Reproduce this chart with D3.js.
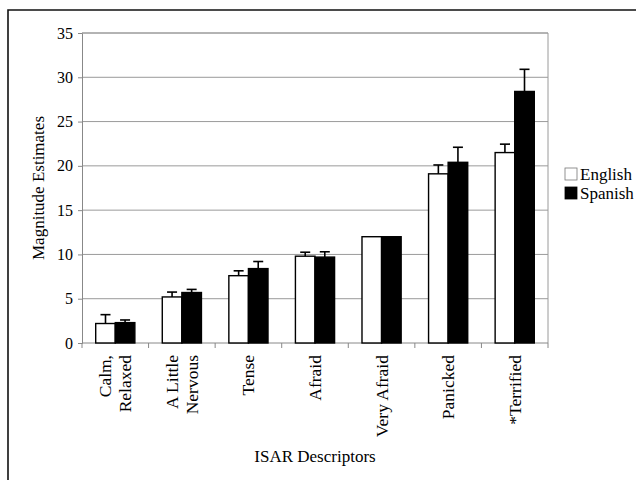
<!DOCTYPE html>
<html lang="en">
<head>
  <meta charset="UTF-8">
  <title>ISAR Descriptors - Magnitude Estimates</title>
  <style>
    body { margin: 0; background: #fff; }
    svg { display: block; font-family: "Liberation Serif", "Times New Roman", serif; }
    .grid line { stroke: #9a9a9a; }
  </style>
  <script src="https://d3js.org/d3.v7.min.js"></script>
</head>
<body>
<svg id="chart"></svg>
<script>
  // Data
  const categories = [["Calm,", "Relaxed"], ["A Little", "Nervous"], ["Tense"], ["Afraid"],
                      ["Very Afraid"], ["Panicked"], ["*Terrified"]];
  const series = ["English", "Spanish"];
  const englishMeans = [2.2, 5.2, 7.6, 9.8, 12.0, 19.1, 21.5];
  const spanishMeans = [2.3, 5.7, 8.4, 9.7, 12.0, 20.4, 28.4];
  const englishErr = [1.0, 0.55, 0.55, 0.45, 0, 1.0, 0.95];
  const spanishErr = [0.3, 0.35, 0.8, 0.6, 0, 1.7, 2.5];
  const yTicks = [0, 5, 10, 15, 20, 25, 30, 35];

  const FONT = "'Liberation Serif', 'Times New Roman', serif";
  const W = 636, H = 480;
  const margin = {top: 33, right: 88, bottom: 137, left: 82};
  const width = W - margin.left - margin.right;
  const height = H - margin.top - margin.bottom;

  const root = d3.select("#chart").attr("width", W).attr("height", H);

  // outer frame (runs off the right and bottom edge)
  root.append("path")
    .attr("d", `M8,${H + 5}V10H${W + 5}`)
    .attr("fill", "none")
    .attr("stroke", "#111")
    .attr("stroke-width", 1.6);

  const svg = root.append("g").attr("transform", `translate(${margin.left},${margin.top})`);

  const keys = categories.map(c => c.join(" "));
  const rows = keys.map((k, i) => ({
    key: k,
    values: [
      {s: "English", v: englishMeans[i], e: englishErr[i]},
      {s: "Spanish", v: spanishMeans[i], e: spanishErr[i]}
    ]
  }));

  const x0 = d3.scaleBand().domain(keys).range([0, width]).padding(0);
  const x1 = d3.scaleBand().domain(series).range([0, x0.bandwidth()]).paddingInner(0).paddingOuter(0.7);
  const y = d3.scaleLinear().domain([0, 35]).range([height, 0]);
  const fill = d3.scaleOrdinal().domain(series).range(["#fff", "#000"]);

  // gridlines
  svg.append("g")
    .attr("class", "grid")
    .selectAll("line")
    .data(yTicks.slice(1))
    .join("line")
    .attr("x1", 0).attr("x2", width)
    .attr("y1", d => y(d)).attr("y2", d => y(d));

  // right border
  svg.append("line")
    .attr("x1", width).attr("x2", width)
    .attr("y1", 0).attr("y2", height)
    .attr("stroke", "#9a9a9a");

  // y axis
  const yAxis = svg.append("g")
    .call(d3.axisLeft(y).tickValues(yTicks).tickSize(4).tickPadding(5))
    .attr("font-family", FONT)
    .attr("font-size", 16);
  yAxis.selectAll("path, line").attr("stroke", "#888");
  yAxis.selectAll("text").attr("fill", "#000").style("font-family", FONT);

  // x axis with ticks at group boundaries
  const xAxis = svg.append("g")
    .attr("transform", `translate(0,${height})`);
  xAxis.append("line")
    .attr("x1", 0).attr("x2", width)
    .attr("stroke", "#888");
  xAxis.selectAll(".bound")
    .data(keys.concat(["end"]))
    .join("line")
    .attr("class", "bound")
    .attr("x1", (d, i) => i < keys.length ? x0(d) : width)
    .attr("x2", (d, i) => i < keys.length ? x0(d) : width)
    .attr("y1", 0).attr("y2", 5)
    .attr("stroke", "#888");

  // category labels, rotated
  const lineH = 20;
  const lab = xAxis.selectAll(".cat")
    .data(categories)
    .join("text")
    .attr("class", "cat")
    .attr("transform", (c, i) => `translate(${x0(keys[i]) + x0.bandwidth() / 2},12) rotate(-90)`)
    .attr("text-anchor", "end")
    .attr("fill", "#000")
    .style("font-size", "17.5px");
  lab.selectAll("tspan")
    .data(c => c.map((t, j) => ({t, j, n: c.length})))
    .join("tspan")
    .attr("x", 0)
    .attr("y", d => (d.j - (d.n - 1) / 2) * lineH + 6)
    .text(d => d.t);

  // bars
  const grp = svg.selectAll(".grp")
    .data(rows)
    .join("g")
    .attr("class", "grp")
    .attr("transform", d => `translate(${x0(d.key)},0)`);

  grp.selectAll("rect")
    .data(d => d.values)
    .join("rect")
    .attr("x", d => x1(d.s))
    .attr("y", d => y(d.v))
    .attr("width", x1.bandwidth())
    .attr("height", d => height - y(d.v))
    .attr("fill", d => fill(d.s))
    .attr("stroke", "#000")
    .attr("stroke-width", 1.4);

  // error bars (upper only)
  const eb = grp.selectAll(".err")
    .data(d => d.values.filter(v => v.e > 0))
    .join("g")
    .attr("class", "err")
    .attr("stroke", "#000")
    .attr("stroke-width", 1.6);
  eb.append("line")
    .attr("x1", d => x1(d.s) + x1.bandwidth() / 2)
    .attr("x2", d => x1(d.s) + x1.bandwidth() / 2)
    .attr("y1", d => y(d.v))
    .attr("y2", d => y(d.v + d.e));
  eb.append("line")
    .attr("x1", d => x1(d.s) + x1.bandwidth() / 2 - 5)
    .attr("x2", d => x1(d.s) + x1.bandwidth() / 2 + 5)
    .attr("y1", d => y(d.v + d.e))
    .attr("y2", d => y(d.v + d.e));

  // top border
  svg.append("line")
    .attr("x1", 0).attr("x2", width)
    .attr("y1", 0).attr("y2", 0)
    .attr("stroke", "#9a9a9a");

  // axis titles
  root.append("text")
    .attr("x", margin.left + width / 2)
    .attr("y", 462)
    .attr("text-anchor", "middle")
    .style("font-size", "17px")
    .text("ISAR Descriptors");

  root.append("text")
    .attr("transform", `translate(44,${margin.top + height / 2}) rotate(-90)`)
    .attr("text-anchor", "middle")
    .style("font-size", "17px")
    .text("Magnitude Estimates");

  // legend
  const legend = root.append("g").attr("transform", "translate(565,168)");
  const li = legend.selectAll("g")
    .data(series)
    .join("g")
    .attr("transform", (d, i) => `translate(0,${i * 19})`);
  li.append("rect")
    .attr("width", 12).attr("height", 12)
    .attr("fill", d => fill(d))
    .attr("stroke", d => d === "English" ? "#777" : "#000")
    .attr("stroke-width", 0.8);
  li.append("text")
    .attr("x", 15).attr("y", 12)
    .style("font-size", "17px")
    .text(d => d);
</script>
</body>
</html>
